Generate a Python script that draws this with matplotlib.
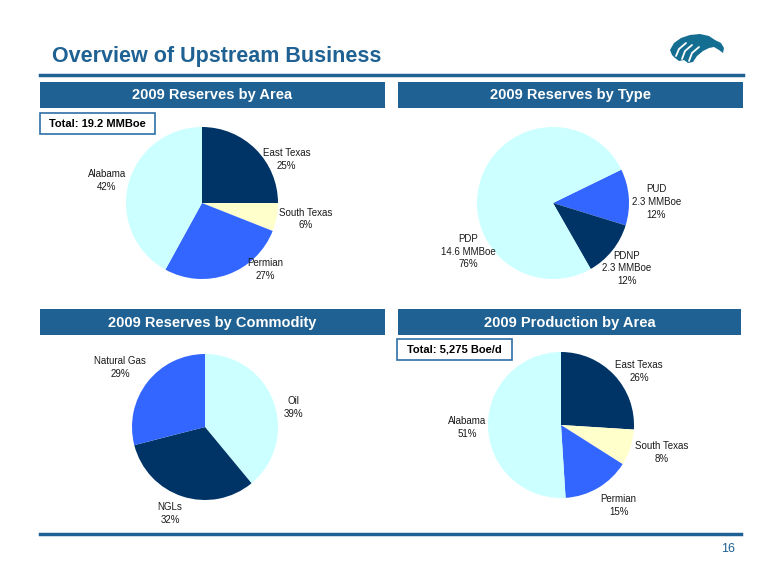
import matplotlib
matplotlib.use('Agg')
import matplotlib.pyplot as plt
from matplotlib.patches import Rectangle, Polygon
from matplotlib.lines import Line2D

plt.rcParams['font.family'] = ['Liberation Sans', 'DejaVu Sans']

# data
area_names = ['East Texas', 'South Texas', 'Permian', 'Alabama']
reserves_area_pct = [25, 6, 27, 42]

type_names = ['PUD', 'PDNP', 'PDP']
type_mmboe = [2.3, 2.3, 14.6]
type_pct = [12, 12, 76]

commodity_names = ['Oil', 'NGLs', 'Natural Gas']
commodity_pct = [39, 32, 29]

production_area_pct = [26, 8, 15, 51]

total_reserves = 'Total: 19.2 MMBoe'
total_production = 'Total: 5,275 Boe/d'

# colours
BLUE = '#1F6192'
NAVY = '#003366'
CYAN = '#CCFFFF'
ROYAL = '#3366FF'
CREAM = '#FFFFCC'

W, H = 780, 585
fig = plt.figure(figsize=(W / 100, H / 100), dpi=100)

# background axes in pixel coordinates for the slide furniture
bg = fig.add_axes([0, 0, 1, 1])
bg.set_xlim(0, W)
bg.set_ylim(H, 0)
bg.axis('off')

bg.text(52, 62, 'Overview of Upstream Business', fontsize=15.5, fontweight='bold',
        color=BLUE, ha='left', va='baseline')
bg.add_line(Line2D([40, 743], [74.5, 74.5], color=BLUE, lw=2.5))
bg.add_line(Line2D([40, 741], [534, 534], color=BLUE, lw=2.5))
bg.text(735, 549, '16', fontsize=9, color=BLUE, ha='right', va='center')

# header bars
headers = [(40, 82, 345, 'Reserves by Area'), (398, 82, 345, 'Reserves by Type'),
           (40, 309, 345, 'Reserves by Commodity'), (398, 309, 343, 'Production by Area')]
for x0, y0, bw, txt in headers:
    bg.add_patch(Rectangle((x0, y0), bw, 26, facecolor=BLUE, edgecolor='none'))
    bg.text(x0 + bw / 2, y0 + 13.5, '2009 ' + txt, fontsize=10.5, fontweight='bold',
            color='white', ha='center', va='center')

# total boxes
for x0, y0, txt in [(40, 113, total_reserves), (397, 339, total_production)]:
    bg.add_patch(Rectangle((x0, y0), 115, 21, facecolor='white', edgecolor='#2F6FA5', lw=1.2))
    bg.text(x0 + 57.5, y0 + 11, txt, fontsize=8, fontweight='bold', color='black',
            ha='center', va='center')

# eagle logo, rough sketch
eagle = [(670, 50), (674, 43), (681, 38), (690, 35), (700, 34), (709, 36), (715, 40),
         (721, 43), (724, 48), (723, 53), (719, 50), (714, 47), (709, 48), (703, 51),
         (697, 56), (693, 62), (688, 63), (684, 60), (679, 61), (675, 58), (672, 55)]
bg.add_patch(Polygon(eagle, closed=True, facecolor='#136E92', edgecolor='none'))
for pts in [[(676, 56), (679, 49), (686, 43)], [(682, 59), (685, 51), (692, 45)],
            [(689, 61), (692, 53), (699, 47)]]:
    xs, ys = zip(*pts)
    bg.plot(xs, ys, color='white', lw=1.3, solid_capstyle='round')


def draw_pie(cx, cy, r, values, colors, start, labels, label_pos):
    box = 240
    ax = fig.add_axes([(cx - box / 2) / W, 1 - (cy + box / 2) / H, box / W, box / H])
    ax.pie(values, colors=colors, startangle=start, counterclock=False,
           wedgeprops=dict(linewidth=0))
    lim = box / 2 / r
    ax.set_xlim(-lim, lim)
    ax.set_ylim(-lim, lim)
    ax.axis('off')
    for txt, (lx, ly) in zip(labels, label_pos):
        ax.text(lx, ly, txt, fontsize=7, color='#1a1a1a', ha='center', va='center',
                linespacing=1.35)


area_colors = [NAVY, CREAM, ROYAL, CYAN]

draw_pie(202, 203, 76, reserves_area_pct, area_colors, 90,
         [f'{n}\n{v}%' for n, v in zip(area_names, reserves_area_pct)],
         [(1.11, 0.57), (1.37, -0.21), (0.83, -0.88), (-1.25, 0.30)])

draw_pie(553, 203, 76, type_mmboe, [ROYAL, NAVY, CYAN], 26,
         [f'{n}\n{m} MMBoe\n{p}%' for n, m, p in zip(type_names, type_mmboe, type_pct)],
         [(1.36, 0.01), (0.97, -0.86), (-1.12, -0.64)])

draw_pie(205, 427, 73, commodity_pct, [CYAN, NAVY, ROYAL], 90,
         [f'{n}\n{v}%' for n, v in zip(commodity_names, commodity_pct)],
         [(1.21, 0.27), (-0.48, -1.18), (-1.16, 0.81)])

draw_pie(561, 425, 73, production_area_pct, area_colors, 90,
         [f'{n}\n{v}%' for n, v in zip(area_names, production_area_pct)],
         [(1.07, 0.73), (1.38, -0.38), (0.79, -1.10), (-1.29, -0.03)])

fig.savefig('out.png', dpi=100)
